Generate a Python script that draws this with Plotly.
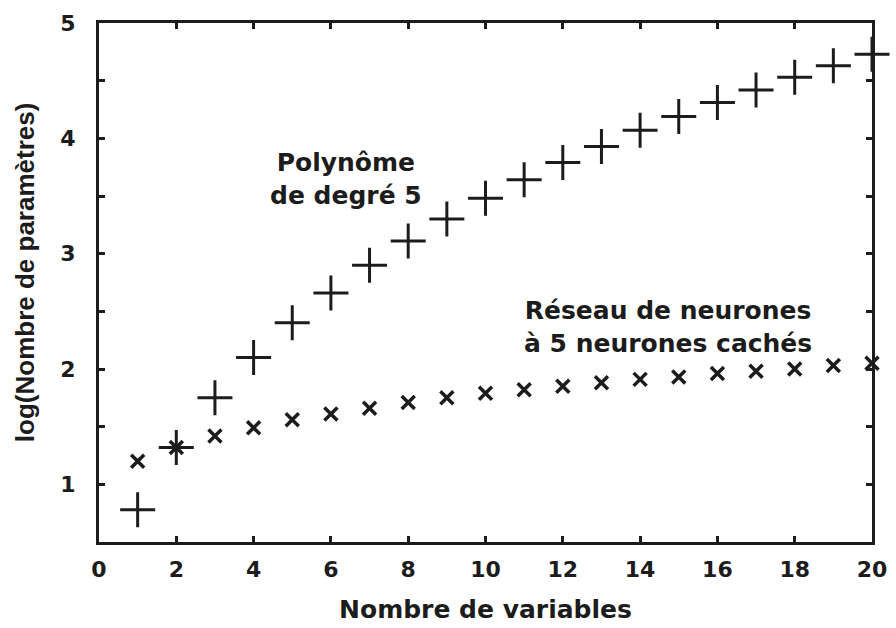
import plotly.graph_objects as go

# Number of input variables
n_vars = list(range(1, 21))

# log10 of parameter count: degree-5 polynomial
log_poly = [0.78, 1.32, 1.75, 2.10, 2.40, 2.66, 2.90, 3.11, 3.30, 3.48,
            3.64, 3.79, 3.93, 4.07, 4.19, 4.31, 4.42, 4.53, 4.63, 4.73]

# log10 of parameter count: neural network with 5 hidden neurons
log_nn = [1.20, 1.32, 1.42, 1.49, 1.56, 1.61, 1.66, 1.71, 1.75, 1.79,
          1.82, 1.85, 1.88, 1.91, 1.93, 1.96, 1.98, 2.00, 2.03, 2.05]

x_ticks = list(range(0, 21, 2))
y_ticks = [0.5, 1, 1.5, 2, 2.5, 3, 3.5, 4, 4.5, 5]
y_ticklabels = ["" if v != int(v) else str(int(v)) for v in y_ticks]

ink = "#1c1c1c"
wide_font = "DejaVu Sans, Verdana, sans-serif"
narrow_font = "Liberation Sans, Arial, sans-serif"

fig = go.Figure()
fig.add_trace(go.Scatter(
    x=n_vars, y=log_poly, mode="markers",
    marker=dict(symbol="cross-thin", size=25, line=dict(width=3, color=ink), color=ink),
    cliponaxis=False, showlegend=False,
))
fig.add_trace(go.Scatter(
    x=n_vars, y=log_nn, mode="markers",
    marker=dict(symbol="x-thin", size=13, line=dict(width=3.5, color=ink), color=ink),
    cliponaxis=False, showlegend=False,
))

label_font = dict(family=wide_font, size=25, color=ink, weight="bold")
fig.add_annotation(x=6.39, y=3.65, xref="x", yref="y", xanchor="center", yanchor="middle",
                   text="Polynôme<br>de degré 5", showarrow=False, align="center",
                   font=label_font)
fig.add_annotation(x=14.72, y=2.36, xref="x", yref="y", xanchor="center", yanchor="middle",
                   text="Réseau de neurones<br>à 5 neurones cachés", showarrow=False, align="center",
                   font=label_font)

# Vertical axis title, placed slightly above the plot's mid-height
fig.add_annotation(x=-0.0957, y=0.52, xref="paper", yref="paper",
                   xanchor="center", yanchor="middle", textangle=-90,
                   text="log(Nombre de paramètres)", showarrow=False,
                   font=dict(family=narrow_font, size=26, color=ink, weight="bold"))

axis_common = dict(
    showline=True, linewidth=3, linecolor=ink, mirror="allticks",
    ticks="inside", ticklen=6, tickwidth=2.5, tickcolor=ink,
    showgrid=False, zeroline=False, automargin=False,
    tickfont=dict(family=wide_font, size=22, color=ink, weight="bold"),
)

fig.update_layout(
    width=896, height=628,
    margin=dict(l=99, r=24, t=23, b=86),
    paper_bgcolor="white", plot_bgcolor="white",
    font=dict(family=wide_font, color=ink),
    xaxis=dict(range=[0, 20], tickvals=x_ticks,
               title=dict(text="Nombre de variables",
                          font=dict(family=wide_font, size=25, color=ink, weight="bold"),
                          standoff=20),
               ticklabelstandoff=6, **axis_common),
    yaxis=dict(range=[0.5, 5], tickvals=y_ticks, ticktext=y_ticklabels,
               ticklabelstandoff=16, **axis_common),
)

fig.write_html("out.html")
